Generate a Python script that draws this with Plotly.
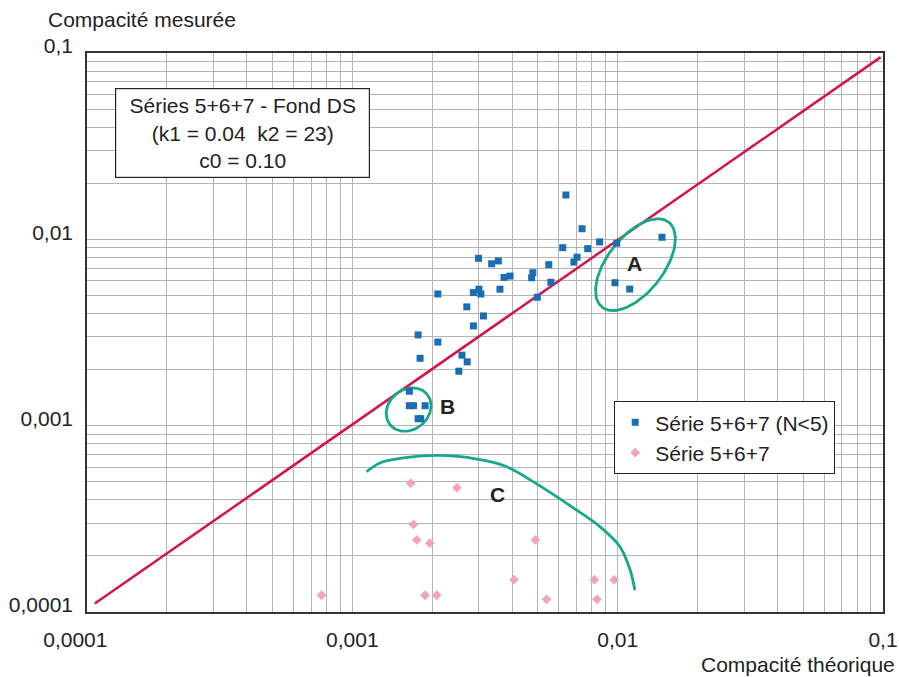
import numpy as np
import plotly.graph_objects as go

# ---------------- data ----------------
blue_x = [0.00638, 0.00734, 0.00855, 0.00992, 0.01469, 0.00621, 0.00771, 0.00703, 0.00684,
          0.0055, 0.00479, 0.00474, 0.0056, 0.00498, 0.00977, 0.0111, 0.00299, 0.00335,
          0.00355, 0.00373, 0.00393, 0.0036, 0.00286, 0.0030, 0.00305, 0.0021, 0.0027,
          0.00312, 0.00286, 0.00177, 0.0021, 0.0018, 0.00259, 0.00271, 0.00252, 0.00164,
          0.00164, 0.0017, 0.00188, 0.00177, 0.00181]
blue_y = [0.0173, 0.0114, 0.00969, 0.00953, 0.01026, 0.00902, 0.00891, 0.00802, 0.00755,
          0.00731, 0.00662, 0.00622, 0.00588, 0.00489, 0.00585, 0.00541, 0.00791, 0.00739,
          0.00766, 0.00625, 0.00635, 0.0054, 0.00518, 0.0054, 0.00509, 0.00509, 0.00434,
          0.00388, 0.00343, 0.00307, 0.00281, 0.0023, 0.00239, 0.0022, 0.00196, 0.00153,
          0.00128, 0.00128, 0.00128, 0.00109, 0.00109]

pink_x = [0.00166, 0.00248, 0.0017, 0.00175, 0.00196, 0.0049, 0.00407, 0.00817, 0.0097,
          0.000766, 0.00188, 0.00208, 0.0054, 0.00836]
pink_y = [0.000491, 0.000465, 0.000295, 0.000244, 0.000234, 0.000244, 0.000149, 0.000149,
          0.000149, 0.000123, 0.000123, 0.000123, 0.000117, 0.000117]

line_x = [0.000107, 0.098]
line_y = [0.000111, 0.095]

curve_c_x = [0.00113, 0.00127, 0.00151, 0.00214, 0.00295, 0.00376, 0.0048, 0.00701,
             0.00857, 0.0102, 0.01114, 0.01161]
curve_c_y = [0.000566, 0.000631, 0.000667, 0.000692, 0.000662, 0.000608, 0.000501,
             0.000352, 0.000287, 0.000224, 0.000168, 0.000131]

tick_vals = [0.0001, 0.001, 0.01, 0.1]
tick_text = ["0,0001", "0,001", "0,01", "0,1"]
x_tick_text = ["0,0001\u00a0\u00a0\u00a0\u00a0", "0,001", "0,01", "0,1"]
minor_vals = [m * 10.0 ** e for e in range(-4, -1) for m in range(2, 10)]

# ---------------- layout constants ----------------
W, H = 899, 677
ML, MR, MT, MB = 87, 16, 53, 65
PW, PH = W - ML - MR, H - MT - MB
PXD_X, PXD_Y = PW / 3.0, PH / 3.0

FONT = "Liberation Sans, Arial, sans-serif"
FS = 21
BLUE = "#1b6db3"
PINK = "#f3a3be"
RED = "#d4134c"
GREEN = "#17a88b"
GRID = "#b4b4b4"
TXT = "#222222"


def ellipse(cx, cy, a, b, ang_deg, n=120):
    t = np.linspace(0, 2 * np.pi, n)
    th = np.radians(ang_deg)
    dx = a * np.cos(t) * np.cos(th) - b * np.sin(t) * np.sin(th)
    dy = a * np.cos(t) * np.sin(th) + b * np.sin(t) * np.cos(th)
    return cx * 10 ** (dx / PXD_X), cy * 10 ** (dy / PXD_Y)


fig = go.Figure()

fig.add_trace(go.Scatter(x=line_x, y=line_y, mode="lines", line=dict(color=RED, width=2.5),
                         showlegend=False, hoverinfo="skip"))

ax, ay = ellipse(0.01167, 0.00731, 54, 28, 52)
fig.add_trace(go.Scatter(x=ax, y=ay, mode="lines", line=dict(color=GREEN, width=2.8),
                         showlegend=False, hoverinfo="skip"))
bx, by = ellipse(0.00163, 0.00122, 24, 20, 40)
fig.add_trace(go.Scatter(x=bx, y=by, mode="lines", line=dict(color=GREEN, width=2.8),
                         showlegend=False, hoverinfo="skip"))
fig.add_trace(go.Scatter(x=curve_c_x, y=curve_c_y, mode="lines",
                         line=dict(color=GREEN, width=2.8, shape="spline"),
                         showlegend=False, hoverinfo="skip"))

fig.add_trace(go.Scatter(x=blue_x, y=blue_y, mode="markers", name="Série 5+6+7 (N<5)",
                         marker=dict(symbol="square", size=7, color=BLUE)))
fig.add_trace(go.Scatter(x=pink_x, y=pink_y, mode="markers", name="Série 5+6+7",
                         marker=dict(symbol="diamond", size=7.5, color=PINK)))

axis_common = dict(type="log", range=[-4, -1], tickvals=tick_vals,
                   showgrid=True, gridcolor=GRID, gridwidth=1.3, automargin=False,
                   minor=dict(tickvals=minor_vals, showgrid=True, gridcolor=GRID, gridwidth=1.3),
                   showline=True, linecolor="#333333", linewidth=1.5, mirror=True,
                   zeroline=False, ticks="", tickfont=dict(family=FONT, size=FS, color=TXT))

fig.update_xaxes(**axis_common, ticktext=x_tick_text, ticklabelstandoff=8)
fig.update_yaxes(**axis_common, ticktext=tick_text, ticklabelstandoff=8, ticklabelshift=-7)

annotations = [
    dict(text="Séries 5+6+7 - Fond DS<br>(k1 = 0.04  k2 = 23)<br>c0 = 0.10",
         xref="paper", yref="paper", x=(242 - ML) / PW, y=(H - MB - 133) / PH,
         xanchor="center", yanchor="middle", showarrow=False, align="center",
         width=251, height=86, bgcolor="white", bordercolor=TXT, borderwidth=1.2,
         font=dict(family=FONT, size=FS, color=TXT)),
    dict(text="Compacité mesurée", xref="paper", yref="paper", x=(46 - ML) / PW,
         y=(H - MB - 20) / PH, xanchor="left", yanchor="middle", showarrow=False,
         font=dict(family=FONT, size=FS, color=TXT)),
    dict(text="Compacité théorique", xref="paper", yref="paper", x=(897 - ML) / PW,
         y=(H - MB - 664) / PH, xanchor="right", yanchor="middle", showarrow=False,
         font=dict(family=FONT, size=FS, color=TXT)),
    dict(text="<b>A</b>", x=np.log10(0.01161), y=np.log10(0.00746), showarrow=False,
         font=dict(family=FONT, size=FS, color=TXT)),
    dict(text="<b>B</b>", x=np.log10(0.002275), y=np.log10(0.00126), showarrow=False,
         font=dict(family=FONT, size=FS, color=TXT)),
    dict(text="<b>C</b>", x=np.log10(0.00351), y=np.log10(0.000425), showarrow=False,
         font=dict(family=FONT, size=FS, color=TXT)),
]

fig.update_layout(
    width=W, height=H, margin=dict(l=ML, r=MR, t=MT, b=MB, autoexpand=False),
    paper_bgcolor="white", plot_bgcolor="white",
    annotations=annotations,
    legend=dict(x=(835 - ML) / PW, y=(H - MB - 401) / PH, xanchor="right", yanchor="top",
                bgcolor="white", bordercolor=TXT, borderwidth=1.2,
                font=dict(family=FONT, size=FS, color=TXT),
                itemwidth=30, tracegroupgap=4),
    font=dict(family=FONT),
)

fig.write_html("out.html")
